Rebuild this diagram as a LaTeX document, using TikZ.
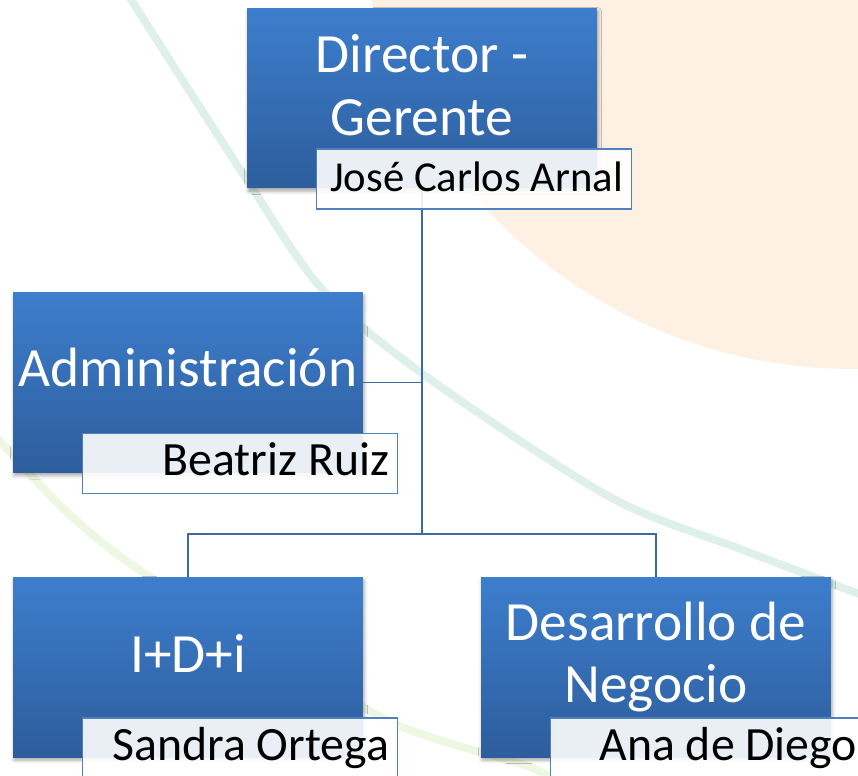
\documentclass[tikz,border=0pt]{standalone}
\usepackage{fontspec}
\setmainfont{Carlito}
\usetikzlibrary{calc,shadows.blur}

\definecolor{boxtop}{RGB}{61,126,205}
\definecolor{boxbot}{RGB}{45,93,156}
\definecolor{subline}{RGB}{79,129,189}
\definecolor{linkblue}{RGB}{62,106,163}
\definecolor{peach}{RGB}{254,240,227}
\definecolor{mint}{RGB}{222,240,233}
\definecolor{lime}{RGB}{238,247,226}

\begin{document}
\begin{tikzpicture}[x=0.02cm,y=-0.02cm,
    unit/.style={minimum width=7cm,minimum height=3.6cm,inner sep=0pt,
      top color=boxtop,bottom color=boxbot,draw=none,
      blur shadow={shadow xshift=0.6pt,shadow yshift=-1.8pt,shadow blur radius=2pt,shadow opacity=35}},
    title/.style={text=white,align=center,font=\fontsize{31.5}{35.7}\selectfont},
    person/.style={draw=subline,line width=0.8pt,fill=white,fill opacity=0.9,text opacity=1,
      minimum width=6.3cm,minimum height=1.2cm,text width=5.96cm,align=flush right,
      inner xsep=0.17cm,inner ysep=0pt,text height=0.62cm,text depth=0.14cm,
      font=\fontsize{27.2}{30}\selectfont,anchor=north east},
    link/.style={draw=linkblue,line width=1.1pt}]
    \path[use as bounding box,clip] (0,0) rectangle (858,775);
    % background
    \fill[peach] (852,-129) circle[radius=9.96cm];
    \draw[mint,line width=4.5pt] plot[smooth] coordinates {(125,-10) (245,177) (323,290) (427,377) (610,497) (743,550) (870,598)};
    \draw[lime,line width=4.5pt] plot[smooth] coordinates {(-10,430) (67,512) (150,577) (363,707) (430,737) (530,767) (570,790)};
    % units
    \node[unit] (dir) at (422,98) {};
    \node[unit] (adm) at (188,382.5) {};
    \node[unit] (idi) at (188,667) {};
    \node[unit] (des) at (656,667) {};
    \coordinate (hub) at (422,534);
    \draw[link] (dir) -- (hub);
    \draw[link] (adm.east) -- (adm.east -| hub);
    \draw[link] (idi.north) |- (hub) -| (des.north);
    \node[title] (dir-t) at (422,85) {Director -\\Gerente};
    \node[title,anchor=base] (adm-t) at (188,386) {Administración};
    \node[title,anchor=base] (idi-t) at (188,672) {I+D+i};
    \node[title] (des-t) at (656,657) {Desarrollo de\\Negocio};
    % people
    \node[person,font=\fontsize{24.3}{29}\selectfont] (jose) at ($(dir.south east)+(35,-40)$) {José Carlos Arnal};
    \node[person] (bea) at ($(adm.south east)+(35,-40)$) {Beatriz Ruiz};
    \node[person] (san) at ($(idi.south east)+(35,-40)$) {Sandra Ortega};
    \node[person] (ana) at ($(des.south east)+(35,-40)$) {Ana de Diego};
\end{tikzpicture}
\end{document}
